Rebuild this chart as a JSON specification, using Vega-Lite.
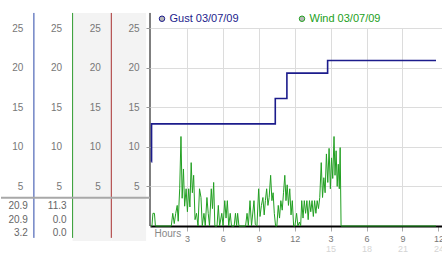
{
  "$schema": "https://vega.github.io/schema/vega-lite/v6.json",
  "padding": {"left": 0, "top": 12, "right": 0, "bottom": 0},
  "spacing": 0,
  "bounds": "flush",
  "config": {
    "view": {"stroke": null},
    "font": "Liberation Sans",
    "axis": {"labelFont": "Liberation Sans", "titleFont": "Liberation Sans", "minExtent": 0}
  },
  "resolve": {"scale": {"color": "independent"}, "legend": {"color": "independent"}},
  "datasets": {
    "columns": [
      {"col": 1, "series": "Gust"},
      {"col": 2, "series": "Wind"},
      {"col": 3, "series": "Spare"},
      {"col": 4, "series": "Axis"}
    ],
    "shade": [
      {"from": 2, "to": 3},
      {"from": 3, "to": 3.9}
    ],
    "summary": [
      {"series": "Gust", "col": 1, "row": 1, "stat": "high", "value": 20.9},
      {"series": "Gust", "col": 1, "row": 2, "stat": "current", "value": 20.9},
      {"series": "Gust", "col": 1, "row": 3, "stat": "low", "value": 3.2},
      {"series": "Wind", "col": 2, "row": 1, "stat": "high", "value": 11.3},
      {"series": "Wind", "col": 2, "row": 2, "stat": "current", "value": 0.0},
      {"series": "Wind", "col": 2, "row": 3, "stat": "low", "value": 0.0}
    ],
    "readings": [
      {"series": "Gust 03/07/09", "hour": 0.04, "speed": 8.1},
      {"series": "Gust 03/07/09", "hour": 0.05, "speed": 12.9},
      {"series": "Gust 03/07/09", "hour": 10.38, "speed": 16.1},
      {"series": "Gust 03/07/09", "hour": 11.35, "speed": 19.3},
      {"series": "Gust 03/07/09", "hour": 14.75, "speed": 20.9},
      {"series": "Gust 03/07/09", "hour": 23.8, "speed": 20.9},
      {"series": "Wind 03/07/09", "hour": 0, "speed": 0},
      {"series": "Wind 03/07/09", "hour": 0.083, "speed": 0},
      {"series": "Wind 03/07/09", "hour": 0.165, "speed": 1.6},
      {"series": "Wind 03/07/09", "hour": 0.29, "speed": 1.6},
      {"series": "Wind 03/07/09", "hour": 0.372, "speed": 0},
      {"series": "Wind 03/07/09", "hour": 1.696, "speed": 0},
      {"series": "Wind 03/07/09", "hour": 1.82, "speed": 1.6},
      {"series": "Wind 03/07/09", "hour": 1.944, "speed": 0.3},
      {"series": "Wind 03/07/09", "hour": 2.068, "speed": 1.6},
      {"series": "Wind 03/07/09", "hour": 2.192, "speed": 2.6},
      {"series": "Wind 03/07/09", "hour": 2.275, "speed": 0.6},
      {"series": "Wind 03/07/09", "hour": 2.399, "speed": 4.7},
      {"series": "Wind 03/07/09", "hour": 2.506, "speed": 11.3},
      {"series": "Wind 03/07/09", "hour": 2.605, "speed": 3.5},
      {"series": "Wind 03/07/09", "hour": 2.713, "speed": 7.2},
      {"series": "Wind 03/07/09", "hour": 2.812, "speed": 2.5},
      {"series": "Wind 03/07/09", "hour": 2.936, "speed": 4.7},
      {"series": "Wind 03/07/09", "hour": 3.044, "speed": 1.8},
      {"series": "Wind 03/07/09", "hour": 3.151, "speed": 4.7},
      {"series": "Wind 03/07/09", "hour": 3.251, "speed": 2.4},
      {"series": "Wind 03/07/09", "hour": 3.358, "speed": 8.0},
      {"series": "Wind 03/07/09", "hour": 3.457, "speed": 4.2},
      {"series": "Wind 03/07/09", "hour": 3.565, "speed": 6.4},
      {"series": "Wind 03/07/09", "hour": 3.681, "speed": 0.8},
      {"series": "Wind 03/07/09", "hour": 3.805, "speed": 1.6},
      {"series": "Wind 03/07/09", "hour": 3.929, "speed": 0},
      {"series": "Wind 03/07/09", "hour": 4.053, "speed": 4.7},
      {"series": "Wind 03/07/09", "hour": 4.177, "speed": 3.6},
      {"series": "Wind 03/07/09", "hour": 4.285, "speed": 0},
      {"series": "Wind 03/07/09", "hour": 4.425, "speed": 1.6},
      {"series": "Wind 03/07/09", "hour": 4.533, "speed": 0},
      {"series": "Wind 03/07/09", "hour": 4.673, "speed": 3.6},
      {"series": "Wind 03/07/09", "hour": 4.781, "speed": 1.6},
      {"series": "Wind 03/07/09", "hour": 4.888, "speed": 0},
      {"series": "Wind 03/07/09", "hour": 5.037, "speed": 4.7},
      {"series": "Wind 03/07/09", "hour": 5.136, "speed": 2.2},
      {"series": "Wind 03/07/09", "hour": 5.236, "speed": 5.5},
      {"series": "Wind 03/07/09", "hour": 5.335, "speed": 0},
      {"series": "Wind 03/07/09", "hour": 5.517, "speed": 0},
      {"series": "Wind 03/07/09", "hour": 5.624, "speed": 2.6},
      {"series": "Wind 03/07/09", "hour": 5.732, "speed": 0},
      {"series": "Wind 03/07/09", "hour": 5.914, "speed": 1.6},
      {"series": "Wind 03/07/09", "hour": 6.021, "speed": 0},
      {"series": "Wind 03/07/09", "hour": 6.162, "speed": 3.2},
      {"series": "Wind 03/07/09", "hour": 6.27, "speed": 1.0},
      {"series": "Wind 03/07/09", "hour": 6.377, "speed": 3.2},
      {"series": "Wind 03/07/09", "hour": 6.493, "speed": 0},
      {"series": "Wind 03/07/09", "hour": 6.617, "speed": 1.6},
      {"series": "Wind 03/07/09", "hour": 6.725, "speed": 0},
      {"series": "Wind 03/07/09", "hour": 6.948, "speed": 0},
      {"series": "Wind 03/07/09", "hour": 7.055, "speed": 1.6},
      {"series": "Wind 03/07/09", "hour": 7.155, "speed": 0},
      {"series": "Wind 03/07/09", "hour": 7.237, "speed": 1.6},
      {"series": "Wind 03/07/09", "hour": 7.345, "speed": 0},
      {"series": "Wind 03/07/09", "hour": 7.899, "speed": 0},
      {"series": "Wind 03/07/09", "hour": 8.023, "speed": 1.6},
      {"series": "Wind 03/07/09", "hour": 8.131, "speed": 0},
      {"series": "Wind 03/07/09", "hour": 8.271, "speed": 3.2},
      {"series": "Wind 03/07/09", "hour": 8.395, "speed": 0},
      {"series": "Wind 03/07/09", "hour": 8.602, "speed": 3.2},
      {"series": "Wind 03/07/09", "hour": 8.71, "speed": 0.2},
      {"series": "Wind 03/07/09", "hour": 8.85, "speed": 0},
      {"series": "Wind 03/07/09", "hour": 8.991, "speed": 4.7},
      {"series": "Wind 03/07/09", "hour": 9.107, "speed": 1.2},
      {"series": "Wind 03/07/09", "hour": 9.222, "speed": 2.6},
      {"series": "Wind 03/07/09", "hour": 9.347, "speed": 3.6},
      {"series": "Wind 03/07/09", "hour": 9.454, "speed": 1.4},
      {"series": "Wind 03/07/09", "hour": 9.553, "speed": 3.2},
      {"series": "Wind 03/07/09", "hour": 9.661, "speed": 4.7},
      {"series": "Wind 03/07/09", "hour": 9.768, "speed": 2.6},
      {"series": "Wind 03/07/09", "hour": 9.868, "speed": 3.6},
      {"series": "Wind 03/07/09", "hour": 9.992, "speed": 6.4},
      {"series": "Wind 03/07/09", "hour": 10.099, "speed": 3.2},
      {"series": "Wind 03/07/09", "hour": 10.199, "speed": 4.2},
      {"series": "Wind 03/07/09", "hour": 10.298, "speed": 1.6},
      {"series": "Wind 03/07/09", "hour": 10.405, "speed": 0},
      {"series": "Wind 03/07/09", "hour": 10.513, "speed": 0},
      {"series": "Wind 03/07/09", "hour": 10.629, "speed": 2.6},
      {"series": "Wind 03/07/09", "hour": 10.736, "speed": 1.0},
      {"series": "Wind 03/07/09", "hour": 10.844, "speed": 3.2},
      {"series": "Wind 03/07/09", "hour": 10.96, "speed": 2.0},
      {"series": "Wind 03/07/09", "hour": 11.067, "speed": 4.2},
      {"series": "Wind 03/07/09", "hour": 11.175, "speed": 6.4},
      {"series": "Wind 03/07/09", "hour": 11.274, "speed": 3.2},
      {"series": "Wind 03/07/09", "hour": 11.373, "speed": 5.2},
      {"series": "Wind 03/07/09", "hour": 11.481, "speed": 2.6},
      {"series": "Wind 03/07/09", "hour": 11.588, "speed": 4.7},
      {"series": "Wind 03/07/09", "hour": 11.696, "speed": 1.4},
      {"series": "Wind 03/07/09", "hour": 11.803, "speed": 3.2},
      {"series": "Wind 03/07/09", "hour": 11.911, "speed": 0},
      {"series": "Wind 03/07/09", "hour": 12.018, "speed": 0},
      {"series": "Wind 03/07/09", "hour": 12.159, "speed": 1.6},
      {"series": "Wind 03/07/09", "hour": 12.266, "speed": 0},
      {"series": "Wind 03/07/09", "hour": 12.399, "speed": 0.5},
      {"series": "Wind 03/07/09", "hour": 12.498, "speed": 0},
      {"series": "Wind 03/07/09", "hour": 12.589, "speed": 3.2},
      {"series": "Wind 03/07/09", "hour": 12.697, "speed": 1.0},
      {"series": "Wind 03/07/09", "hour": 12.804, "speed": 3.2},
      {"series": "Wind 03/07/09", "hour": 12.911, "speed": 1.6},
      {"series": "Wind 03/07/09", "hour": 13.019, "speed": 3.2},
      {"series": "Wind 03/07/09", "hour": 13.127, "speed": 0.8},
      {"series": "Wind 03/07/09", "hour": 13.234, "speed": 3.2},
      {"series": "Wind 03/07/09", "hour": 13.342, "speed": 1.8},
      {"series": "Wind 03/07/09", "hour": 13.449, "speed": 3.2},
      {"series": "Wind 03/07/09", "hour": 13.557, "speed": 1.2},
      {"series": "Wind 03/07/09", "hour": 13.664, "speed": 3.2},
      {"series": "Wind 03/07/09", "hour": 13.772, "speed": 1.6},
      {"series": "Wind 03/07/09", "hour": 13.879, "speed": 3.2},
      {"series": "Wind 03/07/09", "hour": 13.987, "speed": 2.2},
      {"series": "Wind 03/07/09", "hour": 14.094, "speed": 3.6},
      {"series": "Wind 03/07/09", "hour": 14.218, "speed": 8.0},
      {"series": "Wind 03/07/09", "hour": 14.326, "speed": 3.6},
      {"series": "Wind 03/07/09", "hour": 14.433, "speed": 6.1},
      {"series": "Wind 03/07/09", "hour": 14.541, "speed": 4.2},
      {"series": "Wind 03/07/09", "hour": 14.649, "speed": 9.1},
      {"series": "Wind 03/07/09", "hour": 14.764, "speed": 5.5},
      {"series": "Wind 03/07/09", "hour": 14.872, "speed": 9.8},
      {"series": "Wind 03/07/09", "hour": 14.979, "speed": 4.7},
      {"series": "Wind 03/07/09", "hour": 15.079, "speed": 8.6},
      {"series": "Wind 03/07/09", "hour": 15.178, "speed": 6.0},
      {"series": "Wind 03/07/09", "hour": 15.285, "speed": 11.3},
      {"series": "Wind 03/07/09", "hour": 15.368, "speed": 6.4},
      {"series": "Wind 03/07/09", "hour": 15.459, "speed": 9.5},
      {"series": "Wind 03/07/09", "hour": 15.55, "speed": 5.0},
      {"series": "Wind 03/07/09", "hour": 15.641, "speed": 7.8},
      {"series": "Wind 03/07/09", "hour": 15.724, "speed": 4.7},
      {"series": "Wind 03/07/09", "hour": 15.798, "speed": 9.9},
      {"series": "Wind 03/07/09", "hour": 15.873, "speed": 0},
      {"series": "Wind 03/07/09", "hour": 23.8, "speed": 0}
    ]
  },
  "hconcat": [
    {
      "width": 149,
      "height": 198,
      "resolve": {"scale": {"y": "independent"}},
      "layer": [
        {
          "data": {"name": "shade"},
          "mark": {"type": "rect", "color": "#f3f3f3"},
          "encoding": {
            "x": {"field": "from", "type": "quantitative", "scale": {"domain": [0.15, 4], "nice": false, "zero": false}, "axis": null},
            "x2": {"field": "to"},
            "y": {"datum": 26.9, "type": "quantitative", "scale": {"domain": [0, 25], "nice": false, "zero": false}, "axis": null},
            "y2": {"datum": -1.9}
          }
        },
        {
          "data": {"name": "columns"},
          "transform": [{"filter": "datum.series === 'Gust'"}],
          "mark": {"type": "rule", "color": "#2b48a8", "strokeWidth": 1},
          "encoding": {
            "x": {"field": "col", "type": "quantitative", "scale": {"domain": [0.15, 4], "nice": false, "zero": false}, "axis": null},
            "y": {"datum": 26.9, "type": "quantitative", "scale": {"domain": [0, 25], "nice": false, "zero": false},
                  "axis": {"orient": "left", "offset": -32.9, "zindex": 1, "values": [5, 10, 15, 20, 25], "domain": false, "ticks": false, "grid": false, "labelPadding": 11, "labelColor": "#777", "labelFontSize": 10, "title": null}},
            "y2": {"datum": -1.5}
          }
        },
        {
          "data": {"name": "columns"},
          "transform": [{"filter": "datum.series === 'Wind'"}],
          "mark": {"type": "rule", "color": "#2e9a2e", "strokeWidth": 1},
          "encoding": {
            "x": {"field": "col", "type": "quantitative", "scale": {"domain": [0.15, 4], "nice": false, "zero": false}, "axis": null},
            "y": {"datum": 26.9, "type": "quantitative", "scale": {"domain": [0, 25], "nice": false, "zero": false},
                  "axis": {"orient": "left", "offset": -71.6, "zindex": 1, "values": [5, 10, 15, 20, 25], "domain": false, "ticks": false, "grid": false, "labelPadding": 11, "labelColor": "#777", "labelFontSize": 10, "title": null}},
            "y2": {"datum": -1.5}
          }
        },
        {
          "data": {"name": "columns"},
          "transform": [{"filter": "datum.series === 'Spare'"}],
          "mark": {"type": "rule", "color": "#a83030", "strokeWidth": 1},
          "encoding": {
            "x": {"field": "col", "type": "quantitative", "scale": {"domain": [0.15, 4], "nice": false, "zero": false}, "axis": null},
            "y": {"datum": 26.9, "type": "quantitative", "scale": {"domain": [0, 25], "nice": false, "zero": false},
                  "axis": {"orient": "left", "offset": -110.3, "zindex": 1, "values": [5, 10, 15, 20, 25], "domain": false, "ticks": false, "grid": false, "labelPadding": 11, "labelColor": "#777", "labelFontSize": 10, "title": null}},
            "y2": {"datum": -1.5}
          }
        },
        {
          "data": {"name": "columns"},
          "transform": [{"filter": "datum.series === 'Axis'"}],
          "mark": {"type": "rule", "color": "#000000", "strokeWidth": 1},
          "encoding": {
            "x": {"field": "col", "type": "quantitative", "scale": {"domain": [0.15, 4], "nice": false, "zero": false}, "axis": null},
            "y": {"datum": 26.9, "type": "quantitative", "scale": {"domain": [0, 25], "nice": false, "zero": false},
                  "axis": {"orient": "left", "offset": -149, "zindex": 1, "values": [5, 10, 15, 20, 25], "domain": false, "ticks": true, "tickSize": 4, "tickColor": "#999", "grid": false, "labelPadding": 7, "labelColor": "#777", "labelFontSize": 10, "title": null}},
            "y2": {"datum": 0}
          }
        },
        {
          "data": {"values": [{"line": "summary"}]},
          "mark": {"type": "rule", "color": "#a8a8a8", "strokeWidth": 2},
          "encoding": {
            "y": {"datum": 3.57, "type": "quantitative", "scale": {"domain": [0, 25], "nice": false, "zero": false}, "axis": null}
          }
        },
        {
          "data": {"name": "summary"},
          "mark": {"type": "text", "align": "right", "baseline": "middle", "dx": -6, "fontSize": 10, "color": "#666"},
          "encoding": {
            "x": {"field": "col", "type": "quantitative", "scale": {"domain": [0.15, 4], "nice": false, "zero": false}, "axis": null},
            "y": {"field": "row", "type": "quantitative", "scale": {"domain": [-12.185, 2.481], "reverse": true, "nice": false, "zero": false}, "axis": null},
            "text": {"field": "value", "type": "quantitative", "format": ".1f"}
          }
        }
      ]
    },
    {
      "width": 292,
      "height": 198,
      "data": {"name": "readings"},
      "resolve": {"axis": {"x": "independent"}},
      "layer": [
        {
          "transform": [{"filter": "datum.series === 'Wind 03/07/09'"}],
          "mark": {"type": "line", "strokeWidth": 1},
          "encoding": {
            "x": {"field": "hour", "type": "quantitative", "scale": {"domain": [-0.08, 24.3], "nice": false, "zero": false},
                  "axis": {"orient": "bottom", "values": [15, 18, 21, 24], "domain": false, "ticks": false, "grid": false, "labelPadding": 18, "labelColor": "#d4d4d4", "labelFontSize": 9, "labelFlush": false, "title": null}},
            "y": {"field": "speed", "type": "quantitative", "scale": {"domain": [0, 25], "nice": false, "zero": true},
                  "axis": {"orient": "left", "values": [5, 10, 15, 20, 25], "grid": true, "gridColor": "#dcdcdc", "domain": false, "ticks": false, "labels": false, "title": null}},
            "color": {"field": "series", "type": "nominal",
                      "scale": {"domain": ["Gust 03/07/09", "Wind 03/07/09"], "range": ["#1c1c8c", "#22a022"]},
                      "legend": {"title": null, "orient": "none", "legendX": 6.5, "legendY": -15, "direction": "horizontal", "symbolType": "circle", "symbolSize": 30, "labelFontSize": 11, "labelFont": "Liberation Sans", "columnPadding": 57, "labelOffset": 2, "padding": 0,
                                 "encode": {"symbols": {"update": {"fill": {"value": "#b8b8b8"}, "stroke": {"value": "#8c8c8c"}, "strokeWidth": {"value": 1}, "opacity": {"value": 1}}},
                                            "labels": {"update": {"fill": {"signal": "datum.value === 'Gust 03/07/09' ? '#1c1c8c' : '#22a022'"}}}}}}
          }
        },
        {
          "transform": [{"filter": "datum.series === 'Gust 03/07/09'"}],
          "mark": {"type": "line", "strokeWidth": 1.6, "interpolate": "step-after"},
          "encoding": {
            "x": {"field": "hour", "type": "quantitative", "scale": {"domain": [-0.08, 24.3], "nice": false, "zero": false},
                  "axis": {"orient": "bottom", "values": [3, 6, 9, 12, 15, 18, 21, 24],
                           "labelExpr": "datum.value % 12 === 0 ? '12' : '' + (datum.value % 12)",
                           "grid": true, "gridColor": {"condition": {"test": "datum.value === 24", "value": "transparent"}, "value": "#dcdcdc"},
                           "domainColor": "#000", "domainWidth": 2, "tickColor": "#aaa", "tickSize": 5, "labelPadding": 3, "labelColor": "#777", "labelFontSize": 9, "labelFlush": false,
                           "title": "Hours", "titleAnchor": "start", "titleAlign": "left", "titleX": 4, "titleY": 10, "titleBaseline": "alphabetic", "titleFontWeight": "normal", "titleFontSize": 10, "titleColor": "#888"}},
            "y": {"field": "speed", "type": "quantitative", "scale": {"domain": [0, 25], "nice": false, "zero": true},
                  "axis": {"orient": "left", "values": [5, 10, 15, 20, 25], "grid": true, "gridColor": "#dcdcdc", "domain": false, "ticks": false, "labels": false, "title": null}},
            "color": {"field": "series", "type": "nominal",
                      "scale": {"domain": ["Gust 03/07/09", "Wind 03/07/09"], "range": ["#1c1c8c", "#22a022"]}}
          }
        }
      ]
    }
  ]
}
